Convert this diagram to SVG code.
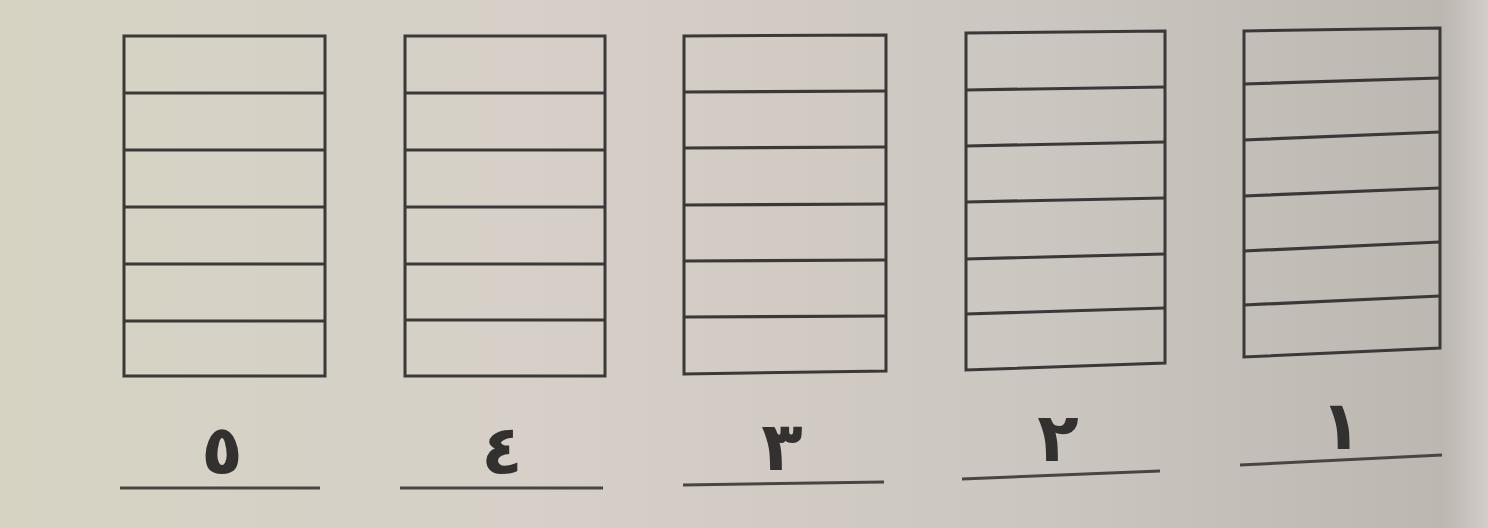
<svg xmlns="http://www.w3.org/2000/svg" width="1488" height="528" viewBox="0 0 1488 528">
  <defs>
    <linearGradient id="bg" x1="0" y1="0" x2="1" y2="0">
      <stop offset="0" stop-color="#d6d3c3"/>
      <stop offset="0.35" stop-color="#d6d0c8"/>
      <stop offset="0.7" stop-color="#ccc6c0"/>
      <stop offset="0.97" stop-color="#bdb7b2"/>
      <stop offset="1" stop-color="#d2cdc8"/>
    </linearGradient>
    <style>
      .box { fill: none; stroke: #3b3838; stroke-width: 3; stroke-linejoin: miter; }
      .row { fill: none; stroke: #3b3838; stroke-width: 3.2; }
      .ul { stroke: #4a4542; stroke-width: 3; }
      .num { font-family: "DejaVu Sans", "Noto Sans", sans-serif; font-weight: bold; font-size: 68px; fill: #333030; text-anchor: middle; }
    </style>
  </defs>
  <rect x="0" y="0" width="1488" height="528" fill="url(#bg)"/>

  <g id="connectors"></g>

  <g id="box5">
    <polygon class="box" points="124,36 325,36 325,376 124,376"/>
    <path class="row" d="M124,93H325M124,150H325M124,207H325M124,264H325M124,321H325"/>
    <line class="ul" x1="120" y1="488" x2="320" y2="488"/>
    <text class="num" x="222" y="474">٥</text>
  </g>

  <g id="box4">
    <polygon class="box" points="405,36 605,36 605,376 405,376"/>
    <path class="row" d="M405,93H605M405,150H605M405,207H605M405,264H605M405,320H605"/>
    <line class="ul" x1="400" y1="488" x2="603" y2="488"/>
    <text class="num" x="502" y="474">٤</text>
  </g>

  <g id="box3">
    <polygon class="box" points="684,36 886,35 886,371 684,374"/>
    <path class="row" d="M684,92L886,91M684,148L886,147M684,205L886,204M684,261L886,260M684,317L886,316"/>
    <line class="ul" x1="683" y1="485" x2="884" y2="482"/>
    <text class="num" x="782" y="470">٣</text>
  </g>

  <g id="box2">
    <polygon class="box" points="966,33 1165,31 1165,363 966,370"/>
    <path class="row" d="M966,90L1165,87M966,146L1165,142M966,202L1165,198M966,259L1165,254M966,314L1165,308"/>
    <line class="ul" x1="962" y1="479" x2="1160" y2="471"/>
    <text class="num" x="1058" y="461">٢</text>
  </g>

  <g id="box1">
    <polygon class="box" points="1244,31 1440,28 1440,348 1244,357"/>
    <path class="row" d="M1244,84L1440,78M1244,140L1440,132M1244,196L1440,188M1244,251L1440,242M1244,305L1440,296"/>
    <line class="ul" x1="1240" y1="465" x2="1442" y2="455"/>
    <text class="num" x="1341" y="449">١</text>
  </g>
</svg>
